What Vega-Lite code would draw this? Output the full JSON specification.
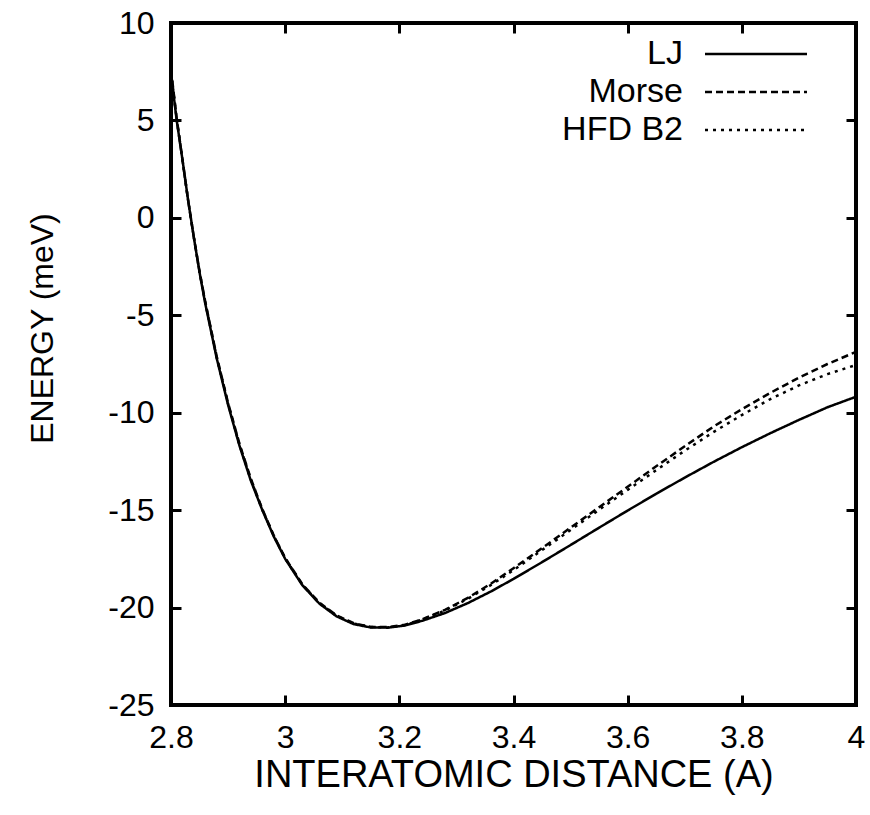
{
  "$schema": "https://vega.github.io/schema/vega-lite/v6.json",
  "width": 685,
  "height": 682,
  "autosize": {"type": "none"},
  "padding": {"left": 171, "top": 23, "right": 14, "bottom": 110},
  "background": "white",
  "config": {
    "view": {"stroke": "black", "strokeWidth": 4},
    "font": "Liberation Sans",
    "axis": {"domain": false, "grid": false, "tickColor": "black", "tickWidth": 3, "tickSize": -10, "labelColor": "black", "titleColor": "black", "labelFont": "Liberation Sans", "titleFont": "Liberation Sans", "titleFontWeight": "normal"}
  },
  "data": {
    "values": [
      {"r": 2.80, "E": 7.4, "m": "LJ"}, {"r": 2.81, "E": 5.0, "m": "LJ"}, {"r": 2.82, "E": 3.0, "m": "LJ"}, {"r": 2.83, "E": 0.9, "m": "LJ"}, {"r": 2.84, "E": -1.0, "m": "LJ"}, {"r": 2.85, "E": -2.8, "m": "LJ"}, {"r": 2.86, "E": -4.4, "m": "LJ"}, {"r": 2.88, "E": -7.2, "m": "LJ"}, {"r": 2.90, "E": -9.6, "m": "LJ"}, {"r": 2.92, "E": -11.7, "m": "LJ"}, {"r": 2.94, "E": -13.5, "m": "LJ"}, {"r": 2.96, "E": -15.0, "m": "LJ"}, {"r": 2.98, "E": -16.35, "m": "LJ"}, {"r": 3.00, "E": -17.5, "m": "LJ"}, {"r": 3.03, "E": -18.85, "m": "LJ"}, {"r": 3.06, "E": -19.8, "m": "LJ"}, {"r": 3.09, "E": -20.45, "m": "LJ"}, {"r": 3.12, "E": -20.85, "m": "LJ"}, {"r": 3.15, "E": -21.02, "m": "LJ"}, {"r": 3.18, "E": -21.03, "m": "LJ"}, {"r": 3.21, "E": -20.92, "m": "LJ"}, {"r": 3.24, "E": -20.68, "m": "LJ"}, {"r": 3.28, "E": -20.28, "m": "LJ"}, {"r": 3.32, "E": -19.77, "m": "LJ"}, {"r": 3.36, "E": -19.18, "m": "LJ"}, {"r": 3.40, "E": -18.53, "m": "LJ"}, {"r": 3.45, "E": -17.67, "m": "LJ"}, {"r": 3.50, "E": -16.79, "m": "LJ"}, {"r": 3.55, "E": -15.90, "m": "LJ"}, {"r": 3.60, "E": -15.02, "m": "LJ"}, {"r": 3.65, "E": -14.16, "m": "LJ"}, {"r": 3.70, "E": -13.33, "m": "LJ"}, {"r": 3.75, "E": -12.53, "m": "LJ"}, {"r": 3.80, "E": -11.77, "m": "LJ"}, {"r": 3.85, "E": -11.05, "m": "LJ"}, {"r": 3.90, "E": -10.37, "m": "LJ"}, {"r": 3.95, "E": -9.72, "m": "LJ"}, {"r": 4.00, "E": -9.18, "m": "LJ"},
      {"r": 2.80, "E": 7.6, "m": "Morse"}, {"r": 2.81, "E": 5.1, "m": "Morse"}, {"r": 2.82, "E": 3.0, "m": "Morse"}, {"r": 2.83, "E": 0.9, "m": "Morse"}, {"r": 2.84, "E": -1.0, "m": "Morse"}, {"r": 2.85, "E": -2.75, "m": "Morse"}, {"r": 2.86, "E": -4.3, "m": "Morse"}, {"r": 2.88, "E": -7.1, "m": "Morse"}, {"r": 2.90, "E": -9.5, "m": "Morse"}, {"r": 2.92, "E": -11.6, "m": "Morse"}, {"r": 2.94, "E": -13.4, "m": "Morse"}, {"r": 2.96, "E": -14.95, "m": "Morse"}, {"r": 2.98, "E": -16.3, "m": "Morse"}, {"r": 3.00, "E": -17.45, "m": "Morse"}, {"r": 3.03, "E": -18.8, "m": "Morse"}, {"r": 3.06, "E": -19.75, "m": "Morse"}, {"r": 3.09, "E": -20.4, "m": "Morse"}, {"r": 3.12, "E": -20.8, "m": "Morse"}, {"r": 3.15, "E": -21.0, "m": "Morse"}, {"r": 3.18, "E": -21.0, "m": "Morse"}, {"r": 3.21, "E": -20.88, "m": "Morse"}, {"r": 3.24, "E": -20.6, "m": "Morse"}, {"r": 3.28, "E": -20.12, "m": "Morse"}, {"r": 3.32, "E": -19.5, "m": "Morse"}, {"r": 3.36, "E": -18.78, "m": "Morse"}, {"r": 3.40, "E": -17.98, "m": "Morse"}, {"r": 3.45, "E": -16.95, "m": "Morse"}, {"r": 3.50, "E": -15.9, "m": "Morse"}, {"r": 3.55, "E": -14.85, "m": "Morse"}, {"r": 3.60, "E": -13.8, "m": "Morse"}, {"r": 3.65, "E": -12.75, "m": "Morse"}, {"r": 3.70, "E": -11.72, "m": "Morse"}, {"r": 3.75, "E": -10.72, "m": "Morse"}, {"r": 3.80, "E": -9.82, "m": "Morse"}, {"r": 3.85, "E": -8.98, "m": "Morse"}, {"r": 3.90, "E": -8.2, "m": "Morse"}, {"r": 3.95, "E": -7.5, "m": "Morse"}, {"r": 4.00, "E": -6.88, "m": "Morse"},
      {"r": 2.80, "E": 7.5, "m": "HFD B2"}, {"r": 2.81, "E": 5.05, "m": "HFD B2"}, {"r": 2.82, "E": 3.0, "m": "HFD B2"}, {"r": 2.83, "E": 0.9, "m": "HFD B2"}, {"r": 2.84, "E": -1.0, "m": "HFD B2"}, {"r": 2.85, "E": -2.78, "m": "HFD B2"}, {"r": 2.86, "E": -4.35, "m": "HFD B2"}, {"r": 2.88, "E": -7.15, "m": "HFD B2"}, {"r": 2.90, "E": -9.55, "m": "HFD B2"}, {"r": 2.92, "E": -11.65, "m": "HFD B2"}, {"r": 2.94, "E": -13.45, "m": "HFD B2"}, {"r": 2.96, "E": -14.98, "m": "HFD B2"}, {"r": 2.98, "E": -16.32, "m": "HFD B2"}, {"r": 3.00, "E": -17.48, "m": "HFD B2"}, {"r": 3.03, "E": -18.82, "m": "HFD B2"}, {"r": 3.06, "E": -19.78, "m": "HFD B2"}, {"r": 3.09, "E": -20.42, "m": "HFD B2"}, {"r": 3.12, "E": -20.82, "m": "HFD B2"}, {"r": 3.15, "E": -21.0, "m": "HFD B2"}, {"r": 3.18, "E": -21.02, "m": "HFD B2"}, {"r": 3.21, "E": -20.9, "m": "HFD B2"}, {"r": 3.24, "E": -20.62, "m": "HFD B2"}, {"r": 3.28, "E": -20.15, "m": "HFD B2"}, {"r": 3.32, "E": -19.55, "m": "HFD B2"}, {"r": 3.36, "E": -18.85, "m": "HFD B2"}, {"r": 3.40, "E": -18.08, "m": "HFD B2"}, {"r": 3.45, "E": -17.05, "m": "HFD B2"}, {"r": 3.50, "E": -16.02, "m": "HFD B2"}, {"r": 3.55, "E": -14.98, "m": "HFD B2"}, {"r": 3.60, "E": -13.96, "m": "HFD B2"}, {"r": 3.65, "E": -12.95, "m": "HFD B2"}, {"r": 3.70, "E": -11.95, "m": "HFD B2"}, {"r": 3.75, "E": -11.0, "m": "HFD B2"}, {"r": 3.80, "E": -10.12, "m": "HFD B2"}, {"r": 3.85, "E": -9.3, "m": "HFD B2"}, {"r": 3.90, "E": -8.6, "m": "HFD B2"}, {"r": 3.95, "E": -8.02, "m": "HFD B2"}, {"r": 4.00, "E": -7.55, "m": "HFD B2"}
    ]
  },
  "layer": [
    {
      "mark": {"type": "line", "color": "black", "strokeWidth": 2.5, "clip": true},
      "encoding": {
        "x": {"field": "r", "type": "quantitative", "scale": {"domain": [2.8, 4], "nice": false, "zero": false},
          "axis": {"orient": "bottom", "values": [2.8, 3, 3.2, 3.4, 3.6, 3.8, 4], "format": "~g", "labelFontSize": 32, "labelPadding": 27, "labelFlush": false, "title": "INTERATOMIC DISTANCE (A)", "titleFontSize": 38, "titlePadding": 3}},
        "y": {"field": "E", "type": "quantitative", "scale": {"domain": [-25, 10], "nice": false, "zero": false},
          "axis": {"orient": "left", "values": [10, 5, 0, -5, -10, -15, -20, -25], "labelExpr": "datum.value < 0 ? '-' + abs(datum.value) : '' + datum.value", "labelFontSize": 32, "labelPadding": 27, "labelFlush": false, "title": "ENERGY (meV)", "titleFontSize": 32, "titlePadding": 48, "titleY": 305}},
        "strokeDash": {"field": "m", "type": "nominal",
          "scale": {"domain": ["LJ", "Morse", "HFD B2"], "range": [[1, 0], [7, 4], [3, 5]]},
          "legend": {"title": null, "orient": "none", "legendX": 388, "legendY": 14, "padding": 0, "symbolType": "M-5.1,0H5.1", "symbolSize": 400, "symbolStrokeWidth": 2.5, "symbolStrokeColor": "black", "symbolFillColor": "transparent", "rowPadding": 4, "labelFontSize": 34, "labelFont": "Liberation Sans", "labelColor": "black", "labelAlign": "right", "symbolOffset": 180, "labelOffset": -90}},
        "detail": {"field": "m"}
      }
    },
    {
      "mark": {"type": "line", "opacity": 0},
      "encoding": {
        "x": {"field": "r", "type": "quantitative", "axis": {"orient": "top", "values": [2.8, 3, 3.2, 3.4, 3.6, 3.8, 4], "labels": false, "title": null}},
        "y": {"field": "E", "type": "quantitative", "axis": {"orient": "right", "values": [10, 5, 0, -5, -10, -15, -20, -25], "labels": false, "title": null}},
        "detail": {"field": "m"}
      }
    }
  ],
  "resolve": {"axis": {"x": "independent", "y": "independent"}}
}
